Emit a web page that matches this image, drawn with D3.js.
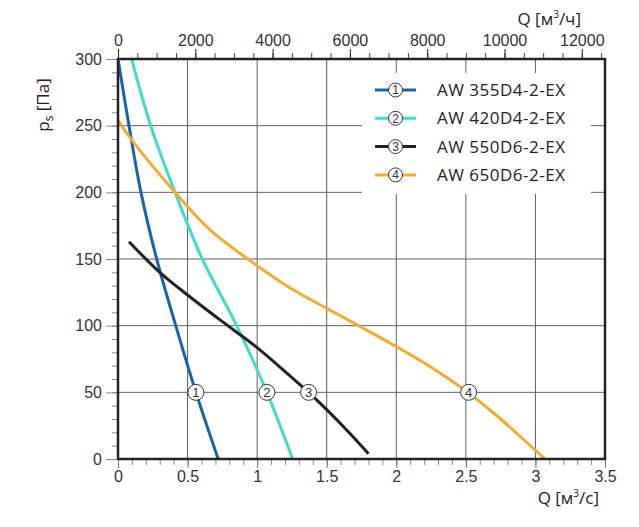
<!DOCTYPE html>
<html>
<head>
<meta charset="utf-8">
<script src="https://cdn.jsdelivr.net/npm/d3@7"></script>
<style>
body { margin: 0; background: #fff; }
svg text { font-family: "Liberation Sans", Arial, sans-serif; }
</style>
</head>
<body>
<div id="chart"></div>
<script>
// fan curves, Q [m3/s] vs ps [Pa]
var names = ["AW 355D4-2-EX", "AW 420D4-2-EX", "AW 550D6-2-EX", "AW 650D6-2-EX"];
var colors = ["#1565ad", "#3ddccb", "#222222", "#f4ab2f"];
var curve1 = [[0, 300], [0.079, 250], [0.165, 200], [0.278, 150], [0.415, 100], [0.56, 50], [0.72, 0]];
var curve2 = [[0.098, 300], [0.235, 250], [0.41, 200], [0.606, 150], [0.853, 100], [1.07, 50], [1.255, 0]];
var curve3 = [[0.079, 163], [0.3, 140], [0.5, 123], [0.75, 103], [1.0, 83.5], [1.25, 61], [1.37, 50], [1.5, 37], [1.65, 21], [1.80, 4]];
var curve4 = [[0, 254], [0.09, 240.5], [0.41, 200], [0.66, 172], [1.0, 145], [1.25, 127.5], [1.5, 113], [1.75, 98.8], [2.0, 84.3], [2.25, 68.8], [2.5, 51], [2.75, 30], [3.0, 6.5], [3.07, 0]];
var curves = [curve1, curve2, curve3, curve4];
var labelQ = [0.56, 1.07, 1.37, 2.52];   // numbered circles at ps = 50
var labelP = 50;
var xTicks = [0, 0.5, 1, 1.5, 2, 2.5, 3, 3.5];
var yTicks = [0, 50, 100, 150, 200, 250, 300];
var hTicks = [0, 2000, 4000, 6000, 8000, 10000, 12000];

var w = 639, h = 527;
var pLeft = 118, pRight = 605, pTop = 59, pBottom = 459;

var x = d3.scaleLinear().domain([0, 3.5]).range([pLeft, pRight]);
var y = d3.scaleLinear().domain([0, 300]).range([pBottom, pTop]);
var xh = d3.scaleLinear().domain([0, 3.5 * 3600]).range([pLeft, pRight]);

var svg = d3.select("#chart").append("svg")
    .attr("width", w)
    .attr("height", h);

// grid
svg.append("g").selectAll("line")
    .data(xTicks.slice(1, -1))
    .enter().append("line")
    .attr("x1", function(d) { return x(d); })
    .attr("x2", function(d) { return x(d); })
    .attr("y1", pTop).attr("y2", pBottom)
    .attr("stroke", "#5f5f5f").attr("stroke-width", 1);
svg.append("g").selectAll("line")
    .data(yTicks.slice(1, -1))
    .enter().append("line")
    .attr("y1", function(d) { return y(d); })
    .attr("y2", function(d) { return y(d); })
    .attr("x1", pLeft).attr("x2", pRight)
    .attr("stroke", "#5f5f5f").attr("stroke-width", 1);

function styleAxis(g, col) {
    g.select(".domain").remove();
    g.selectAll(".tick line").attr("stroke", col);
    g.selectAll(".tick text")
        .attr("fill", "#333")
        .style("font-size", "16px")
        .style("font-family", "'Liberation Sans', Arial, sans-serif");
}
// minor ticks
svg.append("g")
    .attr("transform", "translate(0," + pBottom + ")")
    .call(d3.axisBottom(x).tickValues(d3.range(0, 35).map(function(i) { return i / 10; })).tickSize(6).tickFormat(""))
    .call(styleAxis, "#888");
svg.append("g")
    .attr("transform", "translate(" + pLeft + ",0)")
    .call(d3.axisLeft(y).tickValues(d3.range(0, 300, 10)).tickSize(6).tickFormat(""))
    .call(styleAxis, "#888");
svg.append("g")
    .attr("transform", "translate(0," + pTop + ")")
    .call(d3.axisTop(xh).tickValues(d3.range(0, 12600, 500)).tickSize(6).tickFormat(""))
    .call(styleAxis, "#444");

// major ticks + labels
svg.append("g")
    .attr("transform", "translate(0," + pBottom + ")")
    .call(d3.axisBottom(x).tickValues(xTicks).tickSize(9).tickPadding(3).tickFormat(d3.format("")))
    .call(styleAxis, "#777");
svg.append("g")
    .attr("transform", "translate(" + pLeft + ",0)")
    .call(d3.axisLeft(y).tickValues(yTicks).tickSize(12).tickPadding(4))
    .call(styleAxis, "#888");
svg.append("g")
    .attr("transform", "translate(0," + pTop + ")")
    .call(d3.axisTop(xh).tickValues(hTicks).tickSize(10).tickPadding(3).tickFormat(d3.format("d")))
    .call(styleAxis, "#222");

// legend box (covers grid)
svg.append("rect")
    .attr("x", 362).attr("y", 73)
    .attr("width", 229).attr("height", 121)
    .attr("fill", "#fff");

// curves
var line = d3.line()
    .x(function(d) { return x(d[0]); })
    .y(function(d) { return y(d[1]); })
    .curve(d3.curveCatmullRom.alpha(0.5));
svg.append("g").selectAll("path")
    .data(curves)
    .enter().append("path")
    .attr("d", line)
    .attr("fill", "none")
    .attr("stroke", function(d, i) { return colors[i]; })
    .attr("stroke-width", 3);

// frame
svg.append("rect")
    .attr("x", pLeft).attr("y", pTop)
    .attr("width", pRight - pLeft).attr("height", pBottom - pTop)
    .attr("fill", "none")
    .attr("stroke", "#222")
    .attr("stroke-width", 2.5);

// numbered markers
var mk = svg.append("g").selectAll("g")
    .data(labelQ)
    .enter().append("g")
    .attr("transform", function(d) { return "translate(" + x(d) + "," + y(labelP) + ")"; });
mk.append("circle")
    .attr("r", 8)
    .attr("fill", "#fff")
    .attr("stroke", "#333")
    .attr("stroke-width", 1);
mk.append("text")
    .attr("text-anchor", "middle")
    .attr("dy", "0.36em")
    .style("font-size", "13px")
    .attr("fill", "#333")
    .text(function(d, i) { return i + 1; });

// legend
var lg = svg.append("g").selectAll("g")
    .data(names)
    .enter().append("g")
    .attr("transform", function(d, i) { return "translate(0," + (90 + i * 28.3) + ")"; });
lg.append("line")
    .attr("x1", 375).attr("x2", 416)
    .attr("stroke", function(d, i) { return colors[i]; })
    .attr("stroke-width", 3);
lg.append("circle")
    .attr("cx", 395.5)
    .attr("r", 7)
    .attr("fill", "#fff")
    .attr("stroke", "#333")
    .attr("stroke-width", 1);
lg.append("text")
    .attr("x", 395.5)
    .attr("dy", "0.36em")
    .attr("text-anchor", "middle")
    .style("font-size", "12px")
    .attr("fill", "#333")
    .text(function(d, i) { return i + 1; });
lg.append("text")
    .attr("x", 437)
    .attr("dy", "0.36em")
    .style("font-family", "'Open Sans', sans-serif")
    .style("font-size", "17px")
    .style("letter-spacing", "0.5px")
    .attr("fill", "#222")
    .text(function(d) { return d; });

// axis titles
function unitTitle(tx, ty, unit) {
    var t = svg.append("text")
        .attr("x", tx).attr("y", ty)
        .attr("text-anchor", "end")
        .style("font-family", "'Open Sans', sans-serif")
        .style("font-size", "17px")
        .attr("fill", "#222");
    t.append("tspan").text("Q [м");
    t.append("tspan").attr("dy", -7).style("font-size", "10px").text("3");
    t.append("tspan").attr("dy", 7).text("/" + unit + "]");
}
unitTitle(581, 25, "ч");
unitTitle(599, 504, "с");

var yt = svg.append("text")
    .attr("transform", "translate(49,105) rotate(-90)")
    .attr("text-anchor", "middle")
    .style("font-family", "'Open Sans', sans-serif")
    .style("font-size", "17px")
    .attr("fill", "#222");
yt.append("tspan").text("p");
yt.append("tspan").attr("dy", 4).style("font-size", "12px").text("s");
yt.append("tspan").attr("dy", -4).text(" [Па]");
</script>
</body>
</html>
